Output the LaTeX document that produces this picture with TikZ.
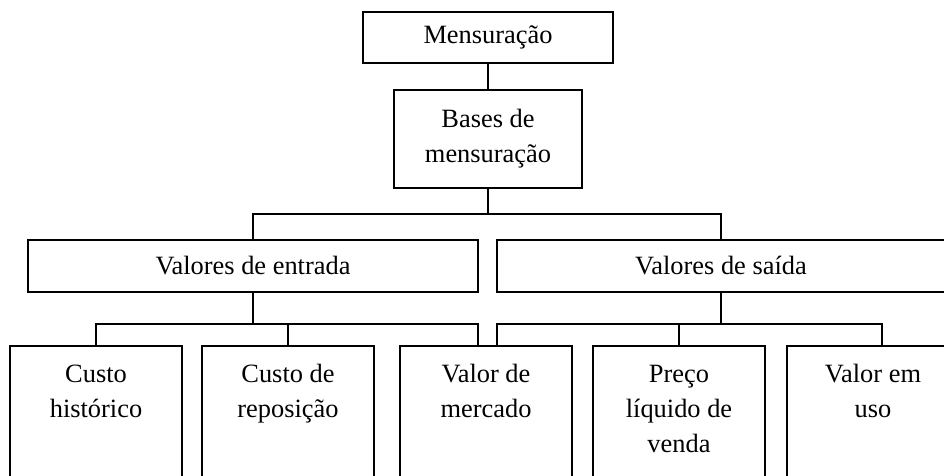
\documentclass[tikz,border=0pt]{standalone}
\usepackage{fontspec}
\setmainfont{Liberation Serif}
\newlength\px
\setlength\px{0.75pt}
\newcommand{\folha}[1]{\begin{minipage}[t][140\px][t]{160\px}\centering\rule{0pt}{36\px}#1\end{minipage}}
\tikzset{
  caixa/.style={draw, line width=1.4pt, inner sep=0pt, outer sep=0pt, align=center},
  folha/.style={caixa, anchor=north, minimum width=172\px},
  ligacao/.style={line width=1.4pt},
}
\begin{document}
\begin{tikzpicture}[x=0.75pt, y=-0.75pt, font=\fontsize{19.8}{26.25}\selectfont]
\useasboundingbox (0,0) rectangle (944,475);
\clip (0,0) rectangle (944,475);
\node[caixa, minimum width=250\px, minimum height=51\px] (mens) at (488,37.5) {Mensuração};
\node[caixa, minimum width=188\px, minimum height=98\px] (bases) at (488,139) {Bases de\\mensuração};
\node[caixa, minimum width=450\px, minimum height=52\px] (entrada) at (253,266) {Valores de entrada};
\node[caixa, minimum width=448\px, minimum height=52\px] (saida) at (721,266) {Valores de saída};
\node[folha] (hist) at (96,346) {\folha{Custo\\histórico}};
\node[folha] (repos) at (288,346) {\folha{Custo de\\reposição}};
\node[folha] (valor) at (486,346) {\folha{Valor de\\mercado}};
\node[folha] (preco) at (679,346) {\folha{Preço\\líquido de\\venda}};
\node[folha] (uso) at (873,346) {\folha{Valor em\\uso}};
\draw[ligacao] (mens) -- (bases);
\draw[ligacao] (bases.south) -- ++(0,26) coordinate (garfo);
\draw[ligacao] (entrada.north) |- (garfo) -| (saida.north);
\draw[ligacao] (entrada.south) -- ++(0,32) coordinate (garfoA);
\draw[ligacao] (hist.north) |- (garfoA) -| (valor.north -| entrada.east);
\draw[ligacao] (repos.north) -- (repos.north |- garfoA);
\draw[ligacao] (saida.south) -- ++(0,32) coordinate (garfoB);
\draw[ligacao] (valor.north -| saida.west) |- (garfoB) -| ([xshift=9\px]uso.north);
\draw[ligacao] (preco.north) -- (preco.north |- garfoB);
\end{tikzpicture}
\end{document}
